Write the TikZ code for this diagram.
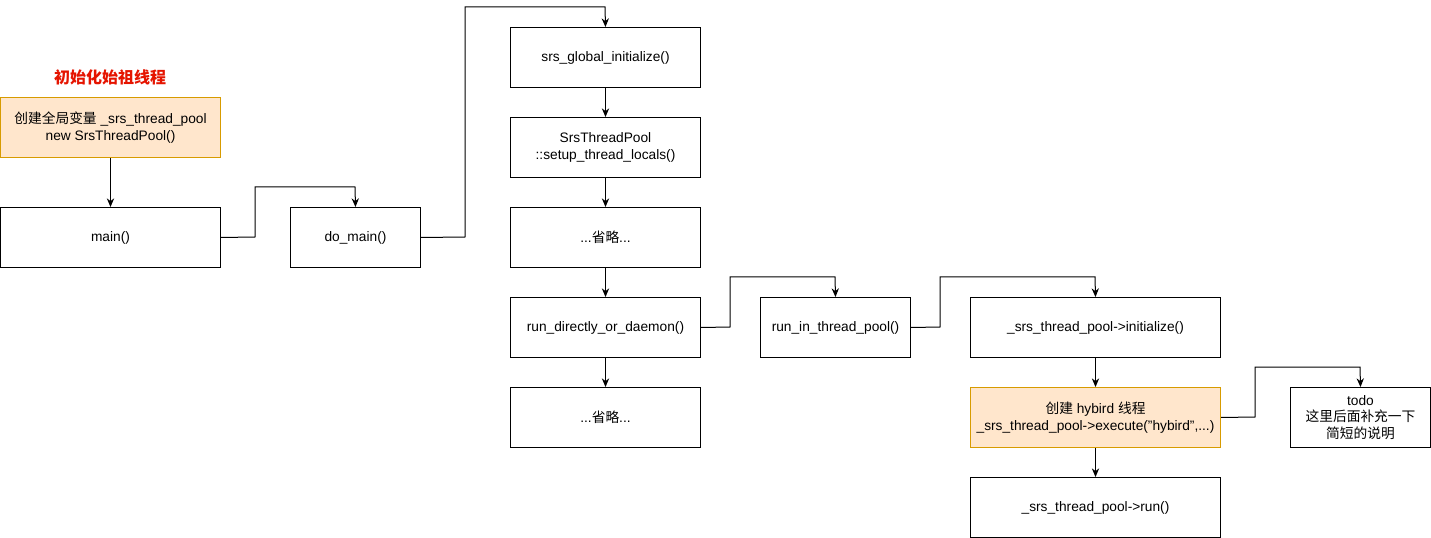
\documentclass[tikz,border=0pt]{standalone}
\usepackage{fontspec}
\setmainfont{Liberation Sans}
\newfontfamily\cjk{Noto Sans CJK SC}
\usetikzlibrary{arrows.meta}
\definecolor{orfill}{HTML}{FFE6CC}
\definecolor{ordraw}{HTML}{D79B00}
\definecolor{titlered}{HTML}{E51400}
\begin{document}
\begin{tikzpicture}[x=0.75pt,y=-0.75pt,
  box/.style={draw=black,line width=0.75pt,fill=white,inner sep=0pt,anchor=north west,align=center,font=\fontsize{10.3}{12.6}\selectfont},
  obox/.style={box,draw=ordraw,fill=orfill},
  conn/.style={draw=black,line width=0.75pt,-{Stealth[length=6.5pt,width=5.5pt]}}]
\useasboundingbox (0,0) rectangle (1431,538);
\fill[white] (0,0) rectangle (1431,538);
\node[font=\cjk\bfseries\fontsize{12}{14}\selectfont,text=titlered] (title) at (110,77) {初始化始祖线程};
\node[obox,minimum width=165pt,minimum height=45pt] (pool) at (0,97) {{\cjk 创建全局变量} \_srs\_thread\_pool\\new SrsThreadPool()};
\node[box,minimum width=165pt,minimum height=45pt] (main) at (0,207) {main()};
\node[box,minimum width=97.5pt,minimum height=45pt] (domain) at (290,207) {do\_main()};
\node[box,minimum width=142.5pt,minimum height=45pt] (glob) at (510,27) {srs\_global\_initialize()};
\node[box,minimum width=142.5pt,minimum height=45pt] (setup) at (510,117) {SrsThreadPool\\::setup\_thread\_locals()};
\node[box,minimum width=142.5pt,minimum height=45pt] (om1) at (510,207) {...{\cjk 省略}...};
\node[box,minimum width=142.5pt,minimum height=45pt] (rdd) at (510,297) {run\_directly\_or\_daemon()};
\node[box,minimum width=142.5pt,minimum height=45pt] (om2) at (510,387) {...{\cjk 省略}...};
\node[box,minimum width=112.5pt,minimum height=45pt] (ritp) at (760,297) {run\_in\_thread\_pool()};
\node[box,minimum width=187.5pt,minimum height=45pt] (init) at (970,297) {\_srs\_thread\_pool->initialize()};
\node[obox,minimum width=187.5pt,minimum height=45pt] (hyb) at (970,387) {{\cjk 创建} hybird {\cjk 线程}\\\_srs\_thread\_pool->execute(\symbol{34}hybird\symbol{34},...)};
\node[box,minimum width=187.5pt,minimum height=45pt] (run) at (970,477) {\_srs\_thread\_pool->run()};
\node[box,minimum width=105pt,minimum height=45pt] (todo) at (1290,387) {todo\\{\cjk 这里后面补充一下}\\{\cjk 简短的说明}};
\draw[conn] (pool.south) -- (main.north);
\draw[conn] (main.east) -- (255,237) -- (255,187) -- (355,187) -- (domain.north);
\draw[conn] (domain.east) -- (465,237) -- (465,7) -- (605,7) -- (glob.north);
\draw[conn] (glob.south) -- (setup.north);
\draw[conn] (setup.south) -- (om1.north);
\draw[conn] (om1.south) -- (rdd.north);
\draw[conn] (rdd.south) -- (om2.north);
\draw[conn] (rdd.east) -- (730,327) -- (730,277) -- (835,277) -- (ritp.north);
\draw[conn] (ritp.east) -- (940,327) -- (940,277) -- (1095,277) -- (init.north);
\draw[conn] (init.south) -- (hyb.north);
\draw[conn] (hyb.south) -- (run.north);
\draw[conn] (hyb.east) -- (1255,417) -- (1255,367) -- (1360,367) -- (todo.north);
\end{tikzpicture}
\end{document}
